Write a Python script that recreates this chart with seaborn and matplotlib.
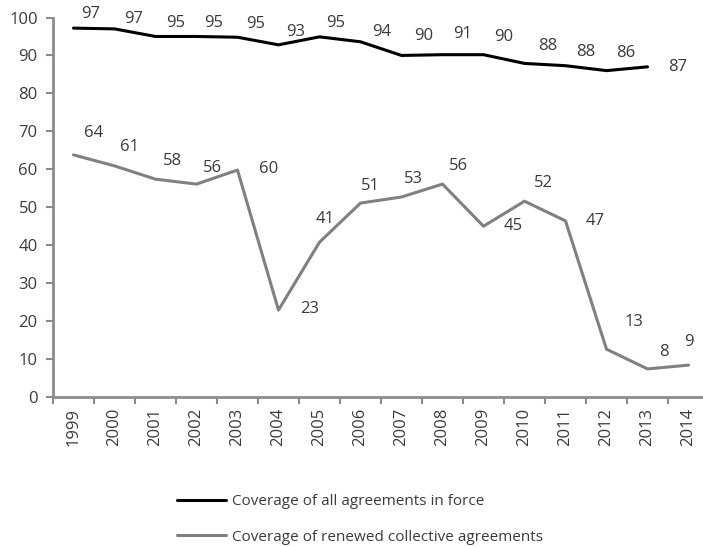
import pandas as pd
import matplotlib
matplotlib.use("Agg")
import matplotlib.pyplot as plt
import seaborn as sns

years = [str(y) for y in range(1999, 2015)]

# coverage of all agreements in force (no 2014 value)
all_force = [97.2, 97.0, 95.0, 95.0, 94.8, 92.8, 94.9, 93.6, 90.0, 90.2, 90.2, 87.9, 87.3, 86.0, 87.0]
all_force_labels = [97, 97, 95, 95, 95, 93, 95, 94, 90, 91, 90, 88, 88, 86, 87]

# coverage of renewed collective agreements
renewed = [63.8, 60.9, 57.4, 56.1, 59.8, 22.9, 40.8, 51.1, 52.7, 56.1, 45.0, 51.6, 46.4, 12.6, 7.4, 8.4]
renewed_labels = [64, 61, 58, 56, 60, 23, 41, 51, 53, 56, 45, 52, 47, 13, 8, 9]

name_all = "Coverage of all agreements in force"
name_renewed = "Coverage of renewed collective agreements"

# label offsets in pixels (dx, dy)
off_all = [(17, 14), (19, 10), (20, 13), (17, 13), (18, 13), (17, 13), (16, 14), (21, 10),
           (22, 19), (20, 21), (20, 18), (23, 17), (20, 14), (19, 18), (30, 0)]
off_renewed = [(20, 22), (15, 19), (17, 18), (16, 16), (31, 1), (31, 1), (6, 23), (10, 17),
               (12, 18), (16, 18), (30, 0), (19, 18), (30, 0), (27, 27), (16, 17), (0, 23)]

df = pd.concat([
    pd.DataFrame({"year": years[:len(all_force)], "value": all_force, "series": name_all}),
    pd.DataFrame({"year": years, "value": renewed, "series": name_renewed}),
])

sns.set_style("white")
plt.rcParams["font.family"] = ["Open Sans", "DejaVu Sans"]
text_col = "#3a3a3a"
axis_col = "#8c8c8c"

fig = plt.figure(figsize=(7.03, 5.47), dpi=100)
ax = fig.add_axes([53 / 703, 150 / 547, 656 / 703, 379.5 / 547])

sns.lineplot(data=df, x="year", y="value", hue="series",
             palette={name_all: "#000000", name_renewed: "#808080"},
             linewidth=2.2, ax=ax, legend=False, sort=False)

for i, (v, lab) in enumerate(zip(all_force, all_force_labels)):
    ax.annotate(str(lab), (i, v), xytext=off_all[i], textcoords="offset pixels",
                ha="center", va="center", fontsize=12, color=text_col)
for i, (v, lab) in enumerate(zip(renewed, renewed_labels)):
    ax.annotate(str(lab), (i, v), xytext=off_renewed[i], textcoords="offset pixels",
                ha="center", va="center", fontsize=12, color=text_col)

ax.set_xlim(-0.5, len(years) - 0.5)
ax.set_ylim(0, 100)
ax.set_yticks(range(0, 101, 10))
ax.set_xticks(range(len(years)))
ax.set_xticklabels(years, rotation=90)
ax.set_xticks([i - 0.5 for i in range(len(years) + 1)], minor=True)
ax.tick_params(axis="x", which="major", length=0, pad=8, labelsize=12, labelcolor=text_col)
ax.tick_params(axis="x", which="minor", length=5, width=1.5, color=axis_col, direction="out", bottom=True)
ax.tick_params(axis="y", length=5, width=1.5, color=axis_col, direction="out", left=True,
               labelsize=12, labelcolor=text_col, pad=6)
ax.set_xlabel("")
ax.set_ylabel("")
sns.despine(ax=ax)
for s in ["left", "bottom"]:
    ax.spines[s].set_color(axis_col)
    ax.spines[s].set_linewidth(2)

handles = [plt.Line2D([], [], color="#000000", lw=2.2),
           plt.Line2D([], [], color="#808080", lw=2.2)]
leg = fig.legend(handles, [name_all, name_renewed], loc="center left",
                 bbox_to_anchor=(177 / 703, 27.5 / 547), frameon=False,
                 fontsize=11, handlelength=3.2, handletextpad=0.4,
                 labelspacing=1.35, borderpad=0, borderaxespad=0)
for t in leg.get_texts():
    t.set_color(text_col)

fig.savefig("out.png", dpi=100)
